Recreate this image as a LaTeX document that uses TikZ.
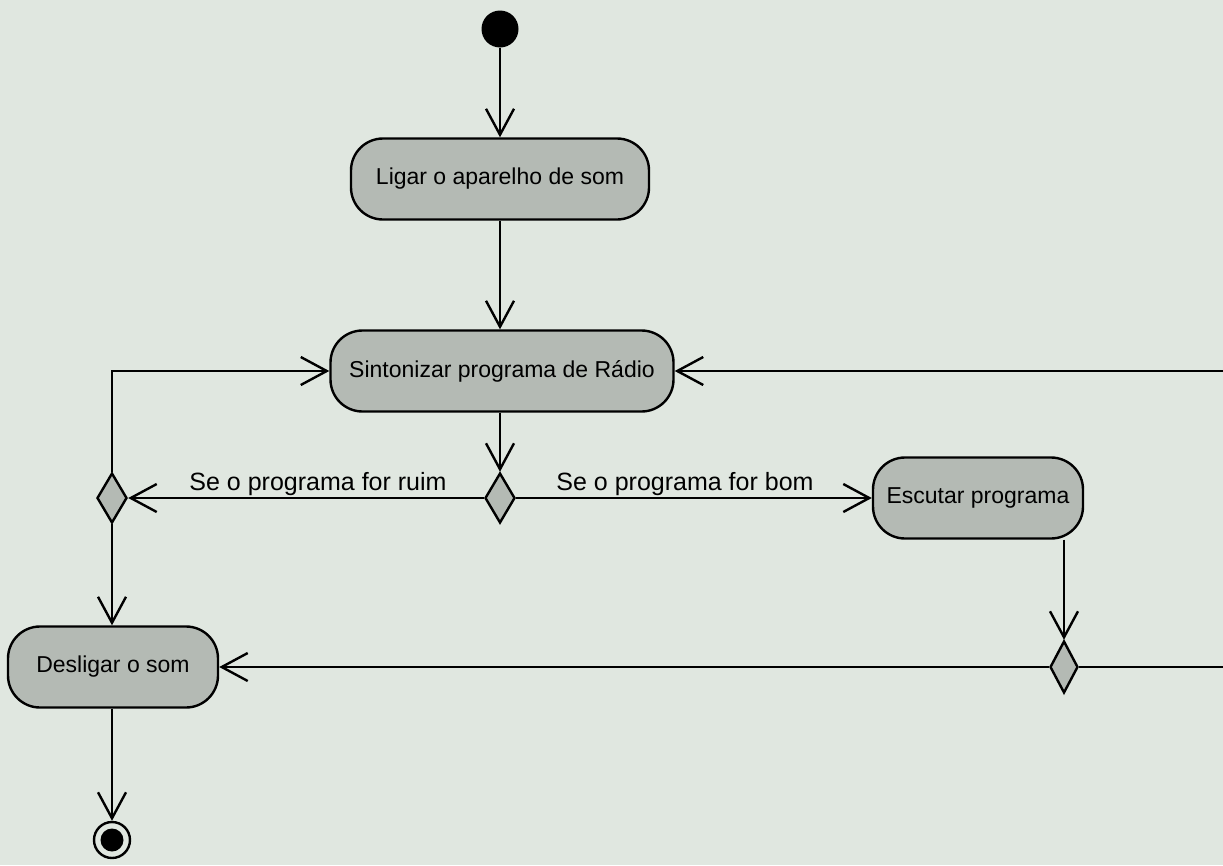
\documentclass[tikz,border=0pt]{standalone}
\usepackage{fontspec}
\setmainfont{Liberation Sans}
\usetikzlibrary{arrows.meta,shapes.geometric}
\definecolor{paper}{RGB}{224,231,224}
\definecolor{actfill}{RGB}{180,186,180}
\begin{document}
\begin{tikzpicture}[x=1pt,y=-1pt,
  activity/.style={draw=black, line width=2.4pt, fill=actfill, rounded corners=32pt,
    minimum height=81pt, inner sep=0pt, font=\fontsize{23}{26}\selectfont},
  decision/.style={diamond, draw=black, line width=2.4pt, fill=actfill,
    minimum width=30pt, minimum height=50pt, inner sep=0pt},
  flow/.style={line width=2.4pt, -{Straight Barb[length=26pt,width=28pt]}},
  guard/.style={font=\fontsize{25}{28}\selectfont, anchor=base, inner sep=0pt}]
\useasboundingbox (0,0) rectangle (1223,865);
\clip (0,0) rectangle (1223,865);
\fill[paper] (0,0) rectangle (1223,865);

% states
\node[circle, fill=black, minimum size=37pt, inner sep=0pt] (start) at (500,29) {};
\node[activity, minimum width=298pt] (ligar) at (500,179) {Ligar o aparelho de som};
\node[activity, minimum width=343pt] (sint) at (502,371) {Sintonizar programa de Rádio};
\node[decision] (dc) at (500,498) {};
\node[decision] (dl) at (112,498) {};
\node[activity, minimum width=210pt] (esc) at (978,498) {Escutar programa};
\node[decision, minimum width=28pt, minimum height=52pt] (dr) at (1064,667) {};
\node[activity, minimum width=210pt] (des) at (113,667) {Desligar o som};
\node[circle, draw=black, line width=2.4pt, fill=paper, minimum size=36pt, inner sep=0pt,
  path picture={\fill[black] (path picture bounding box.center) circle (11.5pt);}]
  (end) at (112,840) {};

% guards
\node[guard] (gruim) at (318,490) {Se o programa for ruim};
\node[guard] (gbom) at (685,490) {Se o programa for bom};

% transitions
\draw[flow] (start) -- (ligar);
\draw[flow] (ligar.south) -- (ligar.south |- sint.north);
\draw[flow] (dc.north |- sint.south) -- (dc.north);
\draw[flow] (dc.west) -- (dl.east);
\draw[flow] (dc.east) -- (esc.west);
\draw[flow] (dl.north) |- (sint.west);
\draw[flow] (dl.south) -- (dl.south |- des.north);
\draw[flow] (des.south -| end.north) -- (end.north);
\draw[flow] (dr.north |- esc.south) -- (dr.north);
\draw[flow] (dr.west) -- (dr.west -| des.east);
\draw[flow] (dr.east) -- ++(200,0) |- (sint.east);
\end{tikzpicture}
\end{document}
